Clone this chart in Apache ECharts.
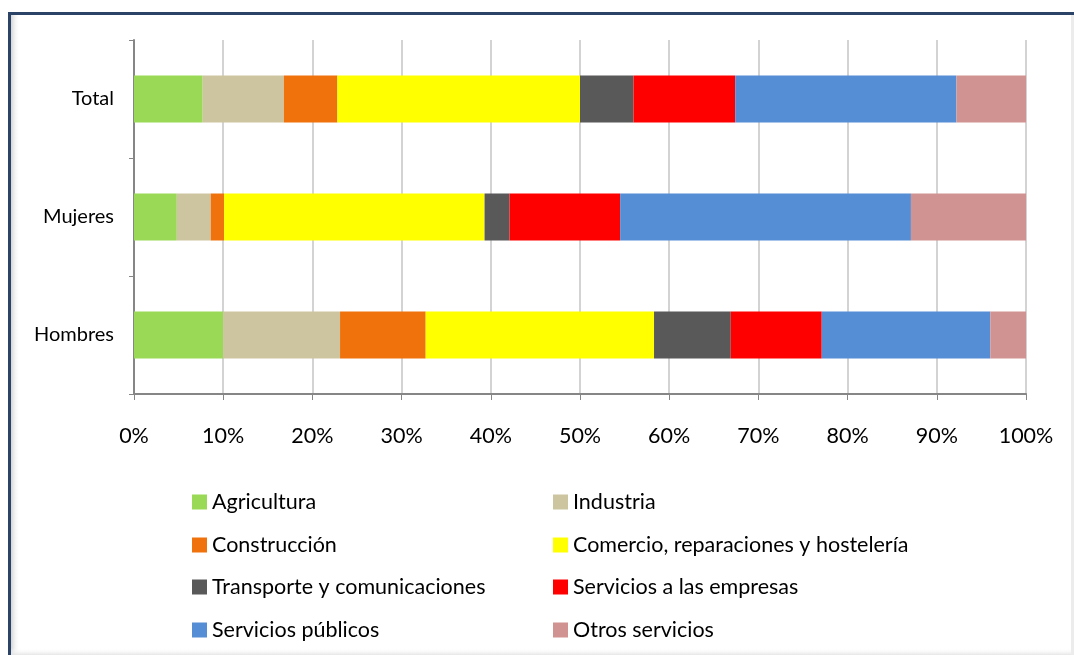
<!DOCTYPE html>
<html>
<head>
<meta charset="utf-8">
<style>
  html, body { margin: 0; padding: 0; background: #ffffff; }
  #chart { width: 1074px; height: 655px; }
</style>
<script src="https://cdn.jsdelivr.net/npm/echarts@6/dist/echarts.min.js"></script>
</head>
<body>
<div id="chart"></div>
<script>
// ---- Data (percent of employment by sector) ----
const categories = ['Hombres', 'Mujeres', 'Total'];
const tickLabels = ['0%', '10%', '20%', '30%', '40%', '50%', '60%', '70%', '80%', '90%', '100%'];

const agricultura       = [10.0, 4.8, 7.7];
const industria         = [13.1, 3.8, 9.1];
const construccion      = [9.6, 1.5, 6.0];
const comercio          = [25.6, 29.2, 27.2];
const transporte        = [8.6, 2.8, 6.0];
const serviciosEmpresas = [10.2, 12.4, 11.4];
const serviciosPublicos = [18.9, 32.6, 24.8];
const otrosServicios    = [4.0, 12.9, 7.8];

const seriesNames = [
  'Agricultura', 'Industria', 'Construcción', 'Comercio, reparaciones y hostelería',
  'Transporte y comunicaciones', 'Servicios a las empresas', 'Servicios públicos', 'Otros servicios'
];
const seriesValues = [agricultura, industria, construccion, comercio,
  transporte, serviciosEmpresas, serviciosPublicos, otrosServicios];
const colors = ['#99d955', '#cdc5a0', '#ef720c', '#ffff00', '#595959', '#ff0000', '#558ed5', '#d19391'];

const FONT = 'Lato, "Open Sans", sans-serif';

const chart = echarts.init(document.getElementById('chart'), null, { renderer: 'canvas' });

const series = seriesNames.map((name, i) => ({
  name: name,
  type: 'bar',
  stack: 'total',
  barWidth: 47,
  data: seriesValues[i],
  itemStyle: { color: colors[i] },
  emphasis: { disabled: true }
}));

// legend laid out as two columns, four rows (one legend component per entry)
const legendCols = [192, 553];
const legendRows = [491, 534, 576, 619];
const legends = seriesNames.map((name, i) => ({
  orient: 'horizontal',
  left: legendCols[i % 2],
  top: legendRows[Math.floor(i / 2)],
  padding: 0,
  itemWidth: 15,
  itemHeight: 15,
  itemTextGap: 5,
  icon: 'rect',
  selectedMode: false,
  textStyle: { fontSize: 21.5, color: '#000000', fontFamily: FONT },
  data: [name]
}));

const option = {
  backgroundColor: '#ffffff',
  animation: false,
  color: colors,
  textStyle: { fontFamily: FONT },
  grid: { left: 134, right: 48, top: 40, bottom: 261, containLabel: false },
  xAxis: {
    type: 'value',
    min: 0,
    max: 100,
    interval: 10,
    axisLine: { show: true, lineStyle: { color: '#868686', width: 2 } },
    axisTick: { show: true, inside: false, length: 6, lineStyle: { color: '#868686', width: 1 } },
    axisLabel: {
      margin: 31,
      fontSize: 21.5,
      color: '#000000',
      fontFamily: FONT,
      formatter: (v) => tickLabels[Math.round(v / 10)]
    },
    splitLine: { show: true, lineStyle: { color: '#c4c4c4', width: 1.5 } }
  },
  yAxis: {
    type: 'category',
    data: categories,
    axisLine: { show: true, lineStyle: { color: '#868686', width: 2 } },
    axisTick: { show: true, inside: false, length: 5, alignWithLabel: false, lineStyle: { color: '#868686', width: 1 } },
    axisLabel: { margin: 20, fontSize: 20, color: '#000000', fontFamily: FONT },
    splitLine: { show: false }
  },
  legend: legends,
  graphic: [
    { type: 'rect', silent: true, z: -1, shape: { x: 11, y: 15, width: 9, height: 640 },
      style: { fill: new echarts.graphic.LinearGradient(0, 0, 1, 0, [
        { offset: 0, color: '#d4d4d4' }, { offset: 1, color: 'rgba(255,255,255,0)' }]) } },
    { type: 'rect', silent: true, shape: { x: 11, y: 648, width: 1063, height: 7 },
      style: { fill: new echarts.graphic.LinearGradient(0, 0, 0, 1, [
        { offset: 0, color: 'rgba(255,255,255,0)' }, { offset: 1, color: '#e6e6e6' }]) } },
    { type: 'rect', silent: true, shape: { x: 1071, y: 15, width: 3, height: 640 },
      style: { fill: '#ececec' } },
    { type: 'rect', silent: true, shape: { x: 8, y: 12, width: 1066, height: 3 },
      style: { fill: '#2a4366' } },
    { type: 'rect', silent: true, shape: { x: 8, y: 12, width: 3, height: 643 },
      style: { fill: '#2a4366' } }
  ],
  series: series
};

chart.setOption(option);
</script>
</body>
</html>
